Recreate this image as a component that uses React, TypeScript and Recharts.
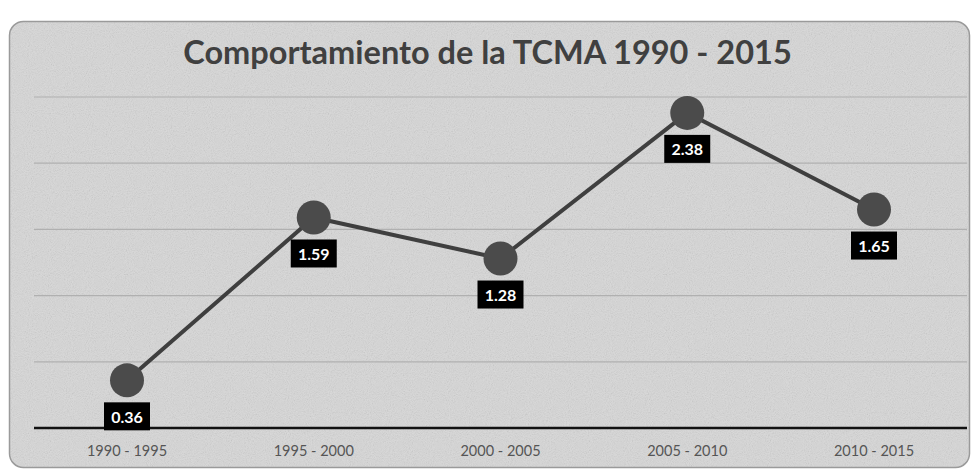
import React from 'react';
import { LineChart, Line, XAxis, YAxis, CartesianGrid } from 'recharts';

const periods = ['1990 - 1995', '1995 - 2000', '2000 - 2005', '2005 - 2010', '2010 - 2015'];
const tcma = [0.36, 1.59, 1.28, 2.38, 1.65];
const yTicks = [0, 0.5, 1, 1.5, 2, 2.5];
const title = 'Comportamiento de la TCMA 1990 - 2015';

const data = periods.map((p, i) => ({ period: p, value: tcma[i] }));

const W = 975;
const H = 471;

const BoxLabel = (props: any) => {
  const { x, y, value } = props;
  if (x == null || y == null) return null;
  const bw = 46;
  const bh = 28;
  const top = y + 22;
  return (
    <g>
      <rect x={x - bw / 2} y={top} width={bw} height={bh} fill="#000" />
      <text
        x={x}
        y={top + bh / 2}
        textAnchor="middle"
        dominantBaseline="central"
        fill="#fff"
        fontFamily="Lato, 'Open Sans', sans-serif"
        fontWeight={700}
        fontSize={16}
      >
        {Number(value).toFixed(2)}
      </text>
    </g>
  );
};

const NoTick = () => <g />;

export default function App() {
  return (
    <div style={{ position: 'absolute', left: 0, top: 0, width: W, height: H, overflow: 'hidden' }}>
      <svg width={W} height={H} style={{ position: 'absolute', left: 0, top: 0 }}>
        <defs>
          <filter id="grain" x="0" y="0" width="100%" height="100%">
            <feTurbulence type="fractalNoise" baseFrequency="0.95" numOctaves="2" stitchTiles="stitch" />
            <feColorMatrix type="saturate" values="0" />
          </filter>
          <clipPath id="boxclip">
            <rect x={9.5} y={21.5} width={960} height={446} rx={14} />
          </clipPath>
        </defs>
        <rect x={0} y={0} width={W} height={H} fill="#ffffff" />
        <g clipPath="url(#boxclip)">
          <rect x={9.5} y={21.5} width={960} height={446} fill="#d8d8d8" />
          <rect x={9.5} y={21.5} width={960} height={446} filter="url(#grain)" opacity={0.32} />
        </g>
        <rect x={9.5} y={21.5} width={960} height={446} rx={14} fill="none" stroke="#9a9a9a" strokeWidth={1.5} />
      </svg>
      <div
        style={{
          position: 'absolute',
          left: 0,
          top: 30,
          width: W,
          textAlign: 'center',
          fontFamily: "Lato, 'Open Sans', sans-serif",
          fontWeight: 700,
          fontSize: 32.5,
          color: '#404040',
          lineHeight: '44px',
        }}
      >
        {title}
      </div>
      <div style={{ position: 'absolute', left: 0, top: 0 }}>
        <LineChart width={W} height={H} data={data} margin={{ top: 97, right: 8, bottom: 13, left: 33 }}>
          <CartesianGrid vertical={false} stroke="#b0b0b0" strokeWidth={1.2} />
          <YAxis
            type="number"
            domain={[0, 2.5]}
            ticks={yTicks}
            width={1}
            tick={<NoTick />}
            axisLine={false}
            tickLine={false}
          />
          <XAxis
            dataKey="period"
            height={30}
            padding={{ left: 93, right: 93 }}
            tickLine={false}
            tickMargin={12}
            axisLine={{ stroke: '#111', strokeWidth: 2.5 }}
            tick={{ fill: '#555', fontSize: 14.5, fontFamily: "Lato, 'Open Sans', sans-serif" }}
          />
          <Line
            type="linear"
            dataKey="value"
            stroke="#3f3f3f"
            strokeWidth={4}
            dot={{ r: 17, fill: '#4b4b4b', stroke: 'none' }}
            activeDot={false}
            label={<BoxLabel />}
            isAnimationActive={false}
          />
        </LineChart>
      </div>
    </div>
  );
}
